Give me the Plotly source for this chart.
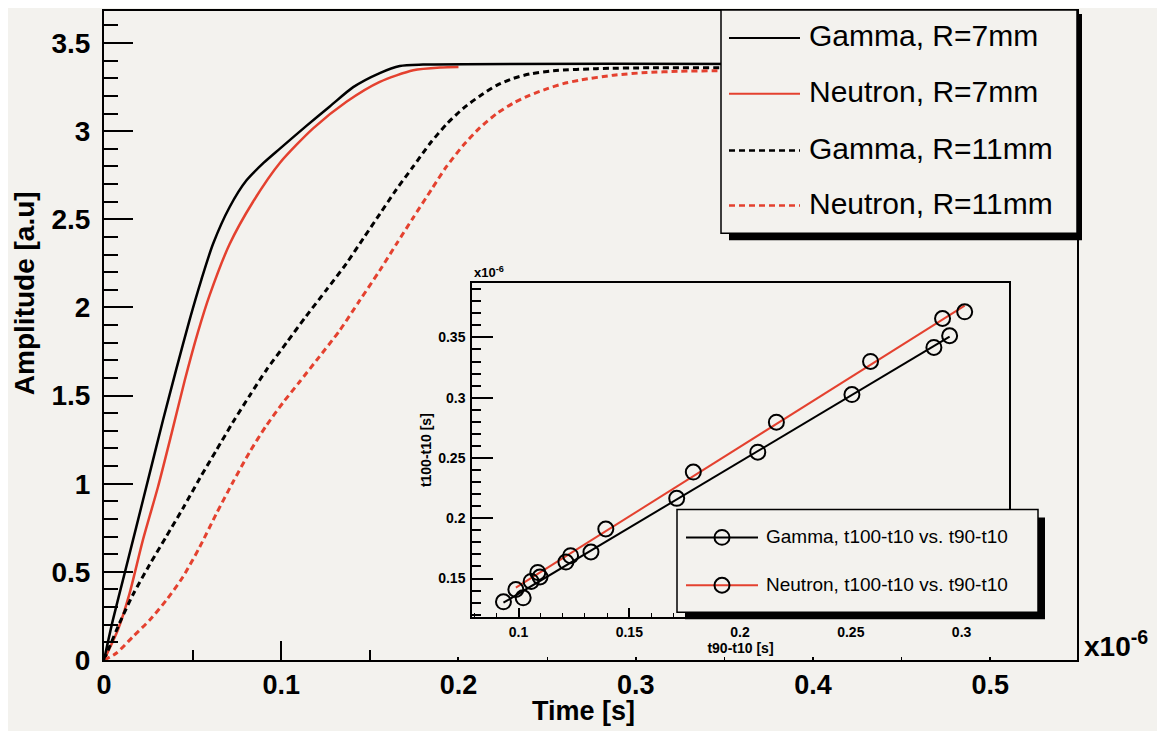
import numpy as np
import plotly.graph_objects as go

# ---------------- data (time in units of 1e-6 s) ----------------
gamma7_t = [0, 0.005, 0.0116, 0.0182, 0.0257, 0.0332, 0.0408, 0.0483, 0.055, 0.0615,
            0.0709, 0.0803, 0.0900, 0.0991, 0.1142, 0.1274, 0.1406, 0.1556, 0.1669, 0.18, 0.55]
gamma7_a = [0, 0.226, 0.49, 0.754, 1.056, 1.357, 1.65, 1.93, 2.16, 2.36,
            2.57, 2.72, 2.82, 2.90, 3.03, 3.14, 3.25, 3.33, 3.37, 3.378, 3.378]

neutron7_t = [0, 0.0078, 0.0144, 0.0219, 0.0304, 0.038, 0.0455, 0.053, 0.0596, 0.0709,
              0.0841, 0.0992, 0.118, 0.1368, 0.1556, 0.1745, 0.19, 0.2]
neutron7_a = [0, 0.17, 0.377, 0.679, 0.98, 1.28, 1.584, 1.86, 2.07, 2.36,
              2.60, 2.82, 3.016, 3.167, 3.28, 3.346, 3.362, 3.365]

gamma11_t = [0, 0.0088, 0.0163, 0.0257, 0.0351, 0.0445, 0.054, 0.0634, 0.0728, 0.0822,
             0.0916, 0.103, 0.114, 0.1255, 0.1368, 0.1462, 0.1556, 0.165, 0.1745, 0.1839,
             0.1933, 0.2027, 0.2121, 0.2216, 0.231, 0.2404, 0.2536, 0.278, 0.31, 0.35, 0.55]
gamma11_a = [0, 0.21, 0.37, 0.54, 0.70, 0.86, 1.03, 1.19, 1.35, 1.50,
             1.645, 1.80, 1.95, 2.10, 2.25, 2.39, 2.53, 2.67, 2.80, 2.93,
             3.04, 3.13, 3.20, 3.26, 3.30, 3.325, 3.343, 3.355, 3.36, 3.36, 3.36]

neutron11_t = [0, 0.0069, 0.0163, 0.0257, 0.0351, 0.0445, 0.054, 0.0634, 0.0728, 0.0822,
               0.0916, 0.101, 0.1105, 0.1199, 0.133, 0.1443, 0.1556, 0.165, 0.1745, 0.1848,
               0.1933, 0.2027, 0.2121, 0.2216, 0.231, 0.2404, 0.2498, 0.2592, 0.2686, 0.2875,
               0.3063, 0.3251, 0.344, 0.40, 0.55]
neutron11_a = [0, 0.038, 0.132, 0.226, 0.339, 0.471, 0.641, 0.83, 1.01, 1.18,
               1.33, 1.46, 1.58, 1.70, 1.87, 2.04, 2.21, 2.36, 2.51, 2.67,
               2.80, 2.92, 3.02, 3.10, 3.16, 3.205, 3.24, 3.27, 3.29, 3.318,
               3.333, 3.34, 3.343, 3.345, 3.345]

# inset: t100-t10 vs t90-t10 (units 1e-6 s)
gamma_t90 = [0.0932, 0.1021, 0.1097, 0.1214, 0.1327, 0.1714, 0.2080, 0.2505, 0.2875, 0.2946]
gamma_t100 = [0.1307, 0.1340, 0.1513, 0.1637, 0.1720, 0.2165, 0.2548, 0.3026, 0.3417, 0.3514]
neutron_t90 = [0.0988, 0.1057, 0.1087, 0.1235, 0.1394, 0.1789, 0.2164, 0.2589, 0.2914, 0.3014]
neutron_t100 = [0.1409, 0.1476, 0.1551, 0.1690, 0.1911, 0.2383, 0.2797, 0.3301, 0.3657, 0.3712]

main_legend = ["Gamma, R=7mm", "Neutron, R=7mm", "Gamma, R=11mm", "Neutron, R=11mm"]
inset_legend = ["Gamma, t100-t10 vs. t90-t10", "Neutron, t100-t10 vs. t90-t10"]

main_xticks = [0, 0.1, 0.2, 0.3, 0.4, 0.5]
main_yticks = [0, 0.5, 1, 1.5, 2, 2.5, 3, 3.5]
inset_xticks = [0.1, 0.15, 0.2, 0.25, 0.3]
inset_yticks = [0.15, 0.2, 0.25, 0.3, 0.35]

# ---------------- styling / layout helpers ----------------
BG = "#f3f2ee"
RED = "#e4412f"
O = 8                      # page offset of the figure div (body margin)
W, H = 1165, 731
L, R, T, B = 96, 96, 1, 79
PW, PH = W - L - R, H - T - B
FONT = "Liberation Sans, Arial, Helvetica, sans-serif"


def px(page_x):
    return (page_x - O - L) / PW


def py(page_y):
    return (H - B - (page_y - O)) / PH


styles = [
    dict(color="black", width=2.5, dash="solid"),
    dict(color=RED, width=2.5, dash="solid"),
    dict(color="black", width=3, dash="6px,4px"),
    dict(color=RED, width=3, dash="6px,4px"),
]
series = [(gamma7_t, gamma7_a), (neutron7_t, neutron7_a),
          (gamma11_t, gamma11_a), (neutron11_t, neutron11_a)]

fig = go.Figure()
for i, ((t, a), st, name) in enumerate(zip(series, styles, main_legend)):
    fig.add_trace(go.Scatter(
        x=t, y=a, mode="lines", name=name, showlegend=False,
        line=dict(color=st["color"], width=st["width"], dash=st["dash"],
                  shape="spline", smoothing=0.7),
        xaxis="x3" if i == 0 else "x", yaxis="y"))

# inset: linear fits + open-circle points
for xs, ys, col in [(gamma_t90, gamma_t100, "black"), (neutron_t90, neutron_t100, RED)]:
    xs_a, ys_a = np.array(xs), np.array(ys)
    k, c = np.polyfit(xs_a, ys_a, 1)
    xf = np.array([xs_a.min(), xs_a.max()])
    fig.add_trace(go.Scatter(x=xf, y=k * xf + c, mode="lines", showlegend=False,
                             line=dict(color=col, width=2), xaxis="x2", yaxis="y2"))
for xs, ys in [(gamma_t90, gamma_t100), (neutron_t90, neutron_t100)]:
    fig.add_trace(go.Scatter(x=xs, y=ys, mode="markers", showlegend=False,
                             marker=dict(symbol="circle-open", size=15, color="black",
                                         line=dict(width=2)),
                             xaxis="x2", yaxis="y2", cliponaxis=False))

bold = dict(family=FONT, weight="bold", color="black")

fig.update_layout(
    width=W, height=H, autosize=False,
    margin=dict(l=L, r=R, t=T, b=B),
    paper_bgcolor=BG, plot_bgcolor=BG,
    font=dict(family=FONT, color="black"),
    showlegend=False,
    xaxis=dict(domain=[0, 1], anchor="y", range=[0, 0.549],
               tickvals=main_xticks, ticktext=[f"{v:g}" for v in main_xticks],
               ticks="inside", ticklen=3, tickwidth=1.5, tickcolor="black",
               minor=dict(dtick=0.05, ticks="inside", ticklen=3, tickwidth=1, tickcolor="black"),
               showline=True, linewidth=2, linecolor="black", mirror=True,
               showgrid=False, zeroline=False, ticklabelstandoff=0,
               tickfont=dict(size=27, **bold)),
    xaxis3=dict(overlaying="x", anchor="y", range=[0, 0.549],
                tickvals=[0.1], ticks="inside", ticklen=19, tickwidth=1.5, tickcolor="black",
                minor=dict(tickvals=[0.05, 0.15], ticks="inside", ticklen=10,
                           tickwidth=1.5, tickcolor="black"),
                showticklabels=False, showline=False, showgrid=False, zeroline=False),
    yaxis=dict(domain=[0, 1], anchor="x", range=[0, 3.682],
               tickvals=main_yticks, ticktext=[f"{v:g}" for v in main_yticks],
               ticks="inside", ticklen=29, tickwidth=1.5, tickcolor="black",
               minor=dict(dtick=0.1, ticks="inside", ticklen=14, tickwidth=1.5, tickcolor="black"),
               showline=True, linewidth=2, linecolor="black", mirror=True,
               showgrid=False, zeroline=False, ticklabelstandoff=6,
               tickfont=dict(size=28, **bold)),
    xaxis2=dict(domain=[px(472), px(1009)], anchor="y2", range=[0.079, 0.3214],
                tickvals=inset_xticks, ticktext=[f"{v:g}" for v in inset_xticks],
                ticks="inside", ticklen=9, tickwidth=1.5, tickcolor="black",
                minor=dict(dtick=0.01, ticks="inside", ticklen=4, tickwidth=1, tickcolor="black"),
                showline=True, linewidth=1.5, linecolor="black", mirror=True,
                showgrid=False, zeroline=False, ticklabelstandoff=1,
                tickfont=dict(size=14, **bold),
                title=dict(text="t90-t10 [s]", font=dict(size=14, **bold), standoff=1)),
    yaxis2=dict(domain=[py(617), py(282)], anchor="x2", range=[0.118, 0.395],
                tickvals=inset_yticks, ticktext=[f"{v:g}" for v in inset_yticks],
                ticks="inside", ticklen=21, tickwidth=1.5, tickcolor="black",
                minor=dict(dtick=0.01, ticks="inside", ticklen=9, tickwidth=1.5, tickcolor="black"),
                showline=True, linewidth=1.5, linecolor="black", mirror=True,
                showgrid=False, zeroline=False, ticklabelstandoff=2,
                tickfont=dict(size=14, **bold),
                title=dict(text="t100-t10 [s]", font=dict(size=14, **bold), standoff=3)),
)

shapes = []
annotations = []

# ---- main legend (box with drop shadow) ----
shapes.append(dict(type="rect", xref="paper", yref="paper", layer="above",
                   x0=px(729), x1=px(1082), y0=py(239), y1=py(12),
                   fillcolor="black", line=dict(width=0)))
shapes.append(dict(type="rect", xref="paper", yref="paper", layer="above",
                   x0=px(721), x1=px(1077), y0=py(232), y1=py(8),
                   fillcolor=BG, line=dict(color="black", width=1.5)))
rows = [36, 92, 149, 204]
for yy, st, name in zip(rows, styles, main_legend):
    shapes.append(dict(type="line", xref="paper", yref="paper", layer="above",
                       x0=px(729), x1=px(800), y0=py(yy), y1=py(yy),
                       line=dict(color=st["color"], width=2 if st["dash"] == "solid" else 2.5,
                                 dash=st["dash"])))
    annotations.append(dict(xref="paper", yref="paper", x=px(807), y=py(yy - 2),
                            xanchor="left", yanchor="middle", showarrow=False, text=name,
                            font=dict(family=FONT, size=30, color="black")))

# ---- inset legend ----
shapes.append(dict(type="rect", xref="paper", yref="paper", layer="above",
                   x0=px(685), x1=px(1045), y0=py(619), y1=py(517),
                   fillcolor="black", line=dict(width=0)))
shapes.append(dict(type="rect", xref="paper", yref="paper", layer="above",
                   x0=px(677), x1=px(1038), y0=py(612), y1=py(509),
                   fillcolor=BG, line=dict(color="black", width=1.5)))
for yy, col, name in zip([537, 585], ["black", RED], inset_legend):
    shapes.append(dict(type="line", xref="paper", yref="paper", layer="above",
                       x0=px(686), x1=px(758), y0=py(yy), y1=py(yy),
                       line=dict(color=col, width=2)))
    shapes.append(dict(type="circle", xref="paper", yref="paper", layer="above",
                       x0=px(714.5), x1=px(729.5), y0=py(yy + 7.5), y1=py(yy - 7.5),
                       fillcolor="rgba(0,0,0,0)", line=dict(color="black", width=2)))
    annotations.append(dict(xref="paper", yref="paper", x=px(764), y=py(yy - 1),
                            xanchor="left", yanchor="middle", showarrow=False, text=name,
                            font=dict(family=FONT, size=19, color="black")))

# ---- axis titles and exponents ----
annotations += [
    dict(xref="paper", yref="paper", x=px(24), y=py(292), textangle=-90,
         xanchor="center", yanchor="middle", showarrow=False, text="Amplitude [a.u]",
         font=dict(size=28, **bold)),
    dict(xref="paper", yref="paper", x=px(583), y=py(711),
         xanchor="center", yanchor="middle", showarrow=False, text="Time [s]",
         font=dict(size=27, **bold)),
    dict(xref="paper", yref="paper", x=px(1082), y=py(664),
         xanchor="left", yanchor="bottom", showarrow=False, text="x10<sup>-6</sup>",
         font=dict(size=28, **bold)),
    dict(xref="paper", yref="paper", x=px(472), y=py(281),
         xanchor="left", yanchor="bottom", showarrow=False, text="x10<sup>-6</sup>",
         font=dict(size=13, **bold)),
]

fig.update_layout(shapes=shapes, annotations=annotations)
fig.write_html("out.html")
